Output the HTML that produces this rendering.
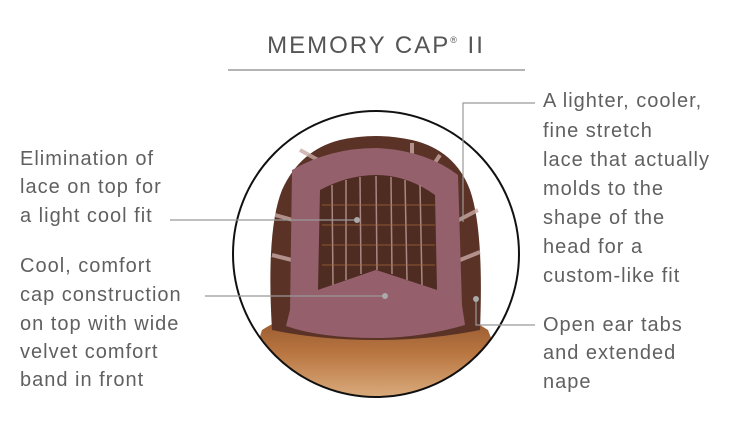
<!DOCTYPE html>
<html><head><style>
body{margin:0;background:#fff;width:750px;height:436px;overflow:hidden}
svg{display:block}
text{font-family:"Liberation Sans",sans-serif;fill:#606060;font-size:20px;letter-spacing:1px}
</style></head><body>
<svg width="750" height="436" viewBox="0 0 750 436">
<defs>
<clipPath id="c"><circle cx="376" cy="254" r="143"/></clipPath>
<linearGradient id="hair" x1="0" y1="0" x2="0" y2="1"><stop offset="0" stop-color="#8a4f2a"/><stop offset="0.5" stop-color="#b87540"/><stop offset="1" stop-color="#dcae80"/></linearGradient>
</defs>
<text x="376" y="53" text-anchor="middle" style="font-size:24px;letter-spacing:2px;fill:#555">MEMORY CAP<tspan style="font-size:9px" dy="-10">®</tspan><tspan dy="10"> II</tspan></text>
<line x1="228" y1="70" x2="525" y2="70" stroke="#888" stroke-width="1.2"/>
<g clip-path="url(#c)">
<rect x="230" y="100" width="300" height="300" fill="#fff"/>
<path d="M240 400 L262 330 Q300 305 376 305 Q450 305 488 330 L515 400 Z" fill="url(#hair)"/>
<path d="M272 330 Q266 230 282 190 Q300 150 340 140 Q376 132 412 140 Q455 150 470 190 Q484 230 480 330 Q430 340 376 340 Q320 340 272 330Z" fill="#5a3226"/>
<g stroke="#c9a9a6" stroke-width="4" fill="none" opacity="0.8">
<path d="M275 215 L300 222"/><path d="M272 255 L300 262"/><path d="M455 222 L478 210"/><path d="M455 262 L480 252"/><path d="M300 150 L318 160"/><path d="M412 143 L412 160"/><path d="M440 155 L430 170"/>
</g>
<path d="M292 170 Q330 148 376 148 Q425 150 458 175 L462 305 Q420 332 376 330 Q330 332 290 310 Z" fill="#93606b"/>
<path d="M320 190 Q348 175 376 175 Q407 175 435 195 L437 290 L376 270 L318 290 Z" fill="#4e2c22"/>
<g stroke="#b5928f" stroke-width="1.5" opacity="0.9">
<line x1="332" y1="185" x2="333" y2="285"/><line x1="346" y1="180" x2="346" y2="280"/><line x1="360" y1="177" x2="361" y2="274"/><line x1="376" y1="176" x2="377" y2="270"/><line x1="391" y1="177" x2="392" y2="274"/><line x1="405" y1="180" x2="407" y2="280"/><line x1="420" y1="185" x2="422" y2="285"/>
</g>
<g stroke="#a8683a" stroke-width="1" opacity="0.7">
<line x1="322" y1="205" x2="435" y2="205"/><line x1="322" y1="225" x2="435" y2="225"/><line x1="322" y1="245" x2="435" y2="245"/><line x1="322" y1="265" x2="435" y2="265"/>
</g>
<path d="M290 310 L318 290 L376 270 L437 290 L462 305 L465 325 Q420 338 376 338 Q320 338 286 326 Z" fill="#955f6b"/>
</g>
<circle cx="376" cy="254" r="143" fill="none" stroke="#111" stroke-width="2"/>
<g stroke="#999" stroke-width="1.2" fill="none">
<line x1="170" y1="220" x2="357" y2="220"/>
<line x1="205" y1="296" x2="385" y2="296"/>
<polyline points="535,103 463,103 463,222"/>
<polyline points="476,299 476,325 535,325"/>
</g>
<g fill="#aaa"><circle cx="357" cy="220" r="3"/><circle cx="385" cy="296" r="3"/><circle cx="476" cy="299" r="3"/></g>
<text x="20" y="165">Elimination of</text>
<text x="20" y="193">lace on top for</text>
<text x="20" y="222">a light cool fit</text>
<text x="20" y="272">Cool, comfort</text>
<text x="20" y="301">cap construction</text>
<text x="20" y="330">on top with wide</text>
<text x="20" y="358">velvet comfort</text>
<text x="20" y="386">band in front</text>
<text x="543" y="107">A lighter, cooler,</text>
<text x="543" y="137">fine stretch</text>
<text x="543" y="166">lace that actually</text>
<text x="543" y="195">molds to the</text>
<text x="543" y="224">shape of the</text>
<text x="543" y="253">head for a</text>
<text x="543" y="282">custom-like fit</text>
<text x="543" y="331">Open ear tabs</text>
<text x="543" y="359">and extended</text>
<text x="543" y="388">nape</text>
</svg>
</body></html>
